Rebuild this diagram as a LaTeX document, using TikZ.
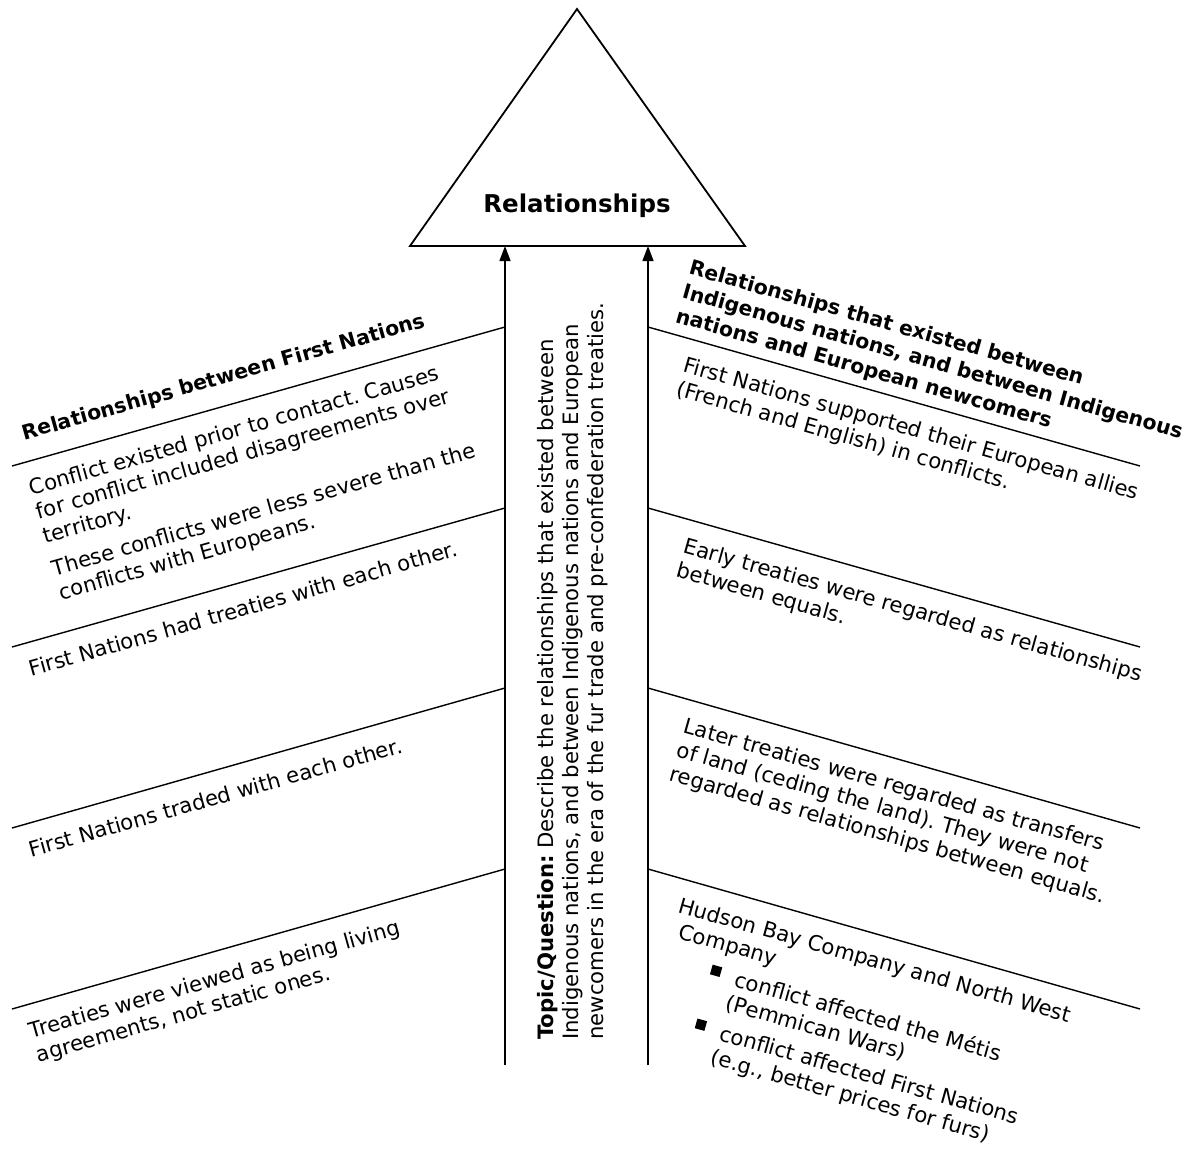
\documentclass[tikz,border=0pt]{standalone}
\usepackage{fontspec}
\setmainfont{DejaVu Sans}
\usetikzlibrary{arrows.meta}
\frenchspacing

\tikzset{
  bodytext/.style={font=\fontsize{21.2}{25}\selectfont, align=left, anchor=base west, inner sep=0pt},
  headtext/.style={bodytext, font=\fontsize{20.4}{25}\selectfont\bfseries},
  titletext/.style={font=\fontsize{24.5}{28}\selectfont\bfseries, inner sep=0pt},
  bone/.style={line width=1.4pt},
  spine/.style={line width=1.4pt, -{Triangle[length=15pt,width=11pt]}},
}
\newcommand{\sqbullet}{\rule[5pt]{10pt}{10pt}}

\begin{document}
\begin{tikzpicture}[x=1pt, y=-1pt]
\useasboundingbox (0,0) rectangle (1197,1153);

% head of the fishbone
\coordinate (apex) at (577,9);
\coordinate (baseL) at (410,246);
\coordinate (baseR) at (745,246);
\draw[line width=1.8pt] (apex) -- (baseL) -- (baseR) -- cycle;
\node[titletext] (title) at (577,206) {Relationships};

% the two spines
\coordinate (spineLb) at (505,1065);
\coordinate (spineLt) at (505,246);
\coordinate (spineRb) at (648,1065);
\coordinate (spineRt) at (648,246);
\draw[spine] (spineLb) -- (spineLt);
\draw[spine] (spineRb) -- (spineRt);

% bones
\foreach \i/\yo/\yi in {1/466/327, 2/647/508, 3/828/688, 4/1009/869} {
  \coordinate (boneL\i) at (12,\yo);
  \coordinate (boneLi\i) at (505,\yi);
  \coordinate (boneR\i) at (648,\yi);
  \coordinate (boneRo\i) at (1140,\yo);
  \draw[bone] (boneL\i) -- (boneLi\i);
  \draw[bone] (boneR\i) -- (boneRo\i);
}

% left side (nodes sit on the baseline of their last line)
\begin{scope}[shift={(boneL1)}, rotate=15.75, transform shape]
  \node[headtext] (headL) at (19,-21.5) {Relationships between First Nations};
  \node[bodytext] (conflictL) at (11,142.5) {Conflict existed prior to contact. Causes\\
    for conflict included disagreements over\\
    territory.\\[9pt]
    These conflicts were less severe than the\\
    conflicts with Europeans.};
\end{scope}
\begin{scope}[shift={(boneL2)}, rotate=15.75, transform shape]
  \node[bodytext] (treatiesL) at (11,33.5) {First Nations had treaties with each other.};
\end{scope}
\begin{scope}[shift={(boneL3)}, rotate=15.75, transform shape]
  \node[bodytext] (tradeL) at (11,33.5) {First Nations traded with each other.};
\end{scope}
\begin{scope}[shift={(boneL4)}, rotate=15.75, transform shape]
  \node[bodytext] (livingL) at (11,58.5) {Treaties were viewed as being living\\
    agreements, not static ones.};
\end{scope}

% right side
\begin{scope}[shift={(boneR1)}, rotate=-15.75, transform shape]
  \node[headtext] (headR) at (24,-12) {Relationships that existed between\\
    Indigenous nations, and between Indigenous\\
    nations and European newcomers};
  \node[bodytext] (alliesR) at (45,58.5) {First Nations supported their European allies\\
    (French and English) in conflicts.};
\end{scope}
\begin{scope}[shift={(boneR2)}, rotate=-15.75, transform shape]
  \node[bodytext] (earlyR) at (45,58.5) {Early treaties were regarded as relationships\\
    between equals.};
\end{scope}
\begin{scope}[shift={(boneR3)}, rotate=-15.75, transform shape]
  \node[bodytext] (laterR) at (45,83.5) {Later treaties were regarded as transfers\\
    of land (ceding the land). They were not\\
    regarded as relationships between equals.};
\end{scope}
\begin{scope}[shift={(boneR4)}, rotate=-15.75, transform shape]
  \node[bodytext] (furR) at (40,170.5) {Hudson Bay Company and North West\\
    \hspace*{7pt}Company\\[6pt]
    \hspace*{48pt}\sqbullet\hspace*{16pt}conflict affected the Métis\\
    \hspace*{72pt}(Pemmican Wars)\\[6pt]
    \hspace*{48pt}\sqbullet\hspace*{16pt}conflict affected First Nations\\
    \hspace*{72pt}(e.g., better prices for furs)};
\end{scope}

% topic question along the middle
\node[bodytext, rotate=90] (topic) at (603,1040) {\textbf{Topic/Question:} Describe the relationships that existed between\\
  Indigenous nations, and between Indigenous nations and European\\
  newcomers in the era of the fur trade and pre-confederation treaties.};
\end{tikzpicture}
\end{document}
